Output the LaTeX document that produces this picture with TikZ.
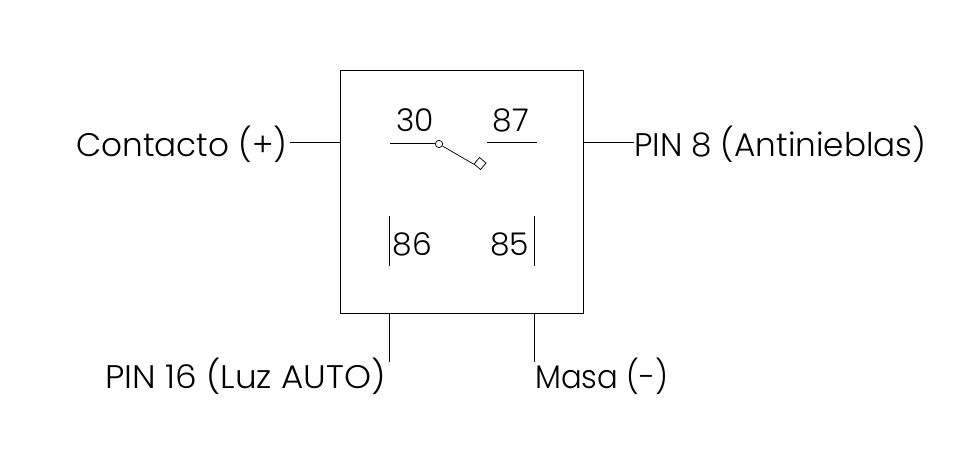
\documentclass[tikz,border=0pt]{standalone}
\usepackage{fontspec}
\setmainfont{Poppins Light}
\tikzset{
wire/.style={line width=0.75pt},
thinwire/.style={line width=0.55pt},
pinlabel/.style={font=\fontsize{24.5}{28}\selectfont,inner sep=0pt,anchor=base},
pinnumber/.style={font=\fontsize{23.5}{28}\selectfont,inner sep=0pt,anchor=base},
}
\begin{document}
\begin{tikzpicture}[x=0.75pt,y=-0.75pt]
\useasboundingbox (0,0) rectangle (964,449);
\node[wire,draw,minimum width=182.25pt,minimum height=181.5pt,inner sep=0pt] (relay) at (461.5,192) {};
% outer labels
\node[pinlabel,anchor=base west] (contacto) at (76,157) {Contacto (+)};
\node[pinlabel,anchor=base west] (antinieblas) at (634,157) {PIN 8 (Antinieblas)};
\node[pinlabel,anchor=base east,xscale=1.05] (luz) at (386,388) {PIN 16 (Luz AUTO)};
\node[pinlabel,anchor=base west,xscale=0.94] (masa) at (535,388) {Masa (-)};
% pin numbers
\node[pinnumber] (p30) at (415,132) {30};
\node[pinnumber] (p87) at (511,132) {87};
\node[pinnumber] (p86) at (412.5,255) {86};
\node[pinnumber] (p85) at (509.5,255) {85};
% wires to the box
\coordinate (c1) at (290,143);
\coordinate (c2) at (634,143);
\coordinate (c3) at (389,362);
\coordinate (c4) at (534,362);
\draw[wire] (c1)--(c1-|relay.west);
\draw[wire] (c2)--(c2-|relay.east);
\draw[wire] (c3)--(c3|-relay.south);
\draw[wire] (c4)--(c4|-relay.south);
% switch
\node[thinwire,draw,circle,minimum size=5.5pt,inner sep=0pt] (pivot) at (439,144) {};
\node[thinwire,draw,minimum size=6.4pt,inner sep=0pt,rotate=-40] (tip) at (480,163.5) {};
\coordinate (s30) at (390,144);
\coordinate (s87a) at (487,143);
\coordinate (s87b) at (537,143);
\draw[wire] (s30)--(pivot);
\draw[thinwire] (pivot)--(tip.south west);
\draw[wire] (s87a)--(s87b);
% coil
\coordinate (b1) at (389,216);
\coordinate (b2) at (389,266);
\coordinate (b3) at (534,216);
\coordinate (b4) at (534,266);
\draw[wire] (b1)--(b2);
\draw[wire] (b3)--(b4);
\end{tikzpicture}
\end{document}
